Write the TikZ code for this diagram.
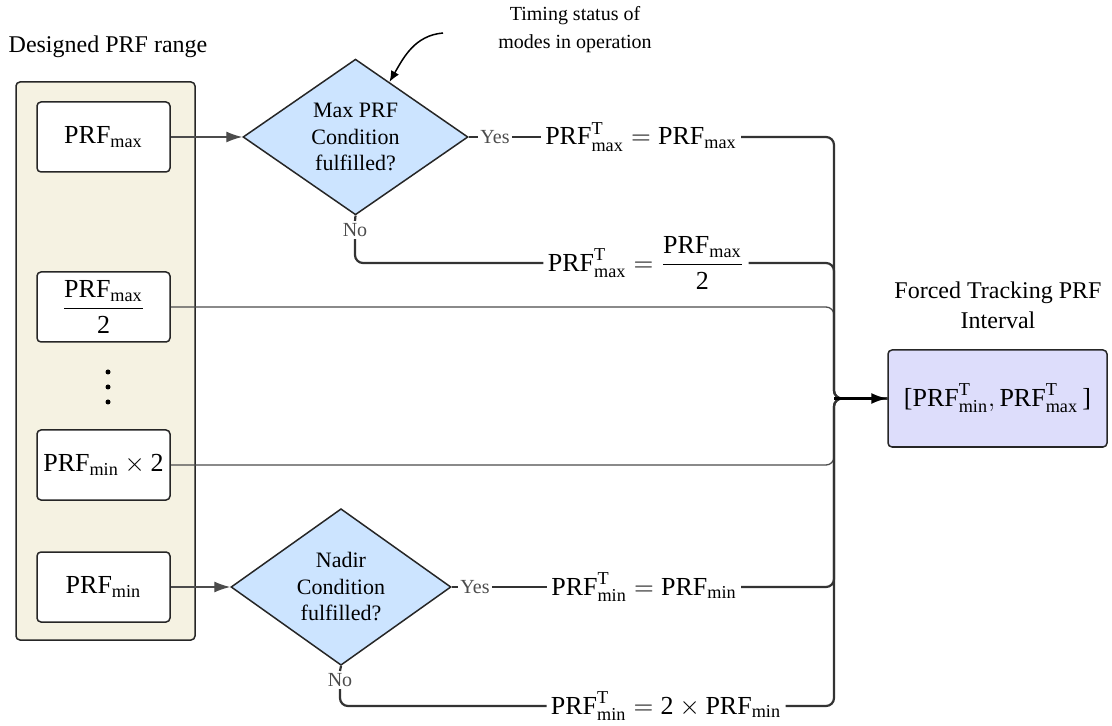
\RequirePackage{fix-cm}
\documentclass[tikz,border=0pt]{standalone}
\usepackage{amsmath}
\usepackage{fontspec}
\setmainfont{Liberation Serif}
\usepackage{tikz}
\usetikzlibrary{arrows.meta, positioning, calc, shapes.geometric}
\definecolor{panelbg}{HTML}{F5F2E2}
\definecolor{checkbg}{HTML}{CCE4FF}
\definecolor{resultbg}{HTML}{DDDDFB}
\definecolor{linedark}{HTML}{333333}
\newcommand{\PRF}{\text{PRF}}
\tikzset{
    prfpanel/.style={draw=black!85, fill=panelbg, line width=0.75pt, rounded corners=2pt, minimum width=89.5pt, minimum height=279pt},
    prfbox/.style={draw=black!85, fill=white, line width=0.75pt, rounded corners=2pt, minimum width=66.5pt, minimum height=35pt, inner sep=0pt, font=\fontsize{13}{15}\selectfont},
    prfcheck/.style={diamond, draw=black!85, fill=checkbg, line width=0.75pt, inner sep=0pt, align=center, font=\fontsize{11}{13.25}\selectfont},
    prfresult/.style={draw=black!85, fill=resultbg, line width=0.75pt, rounded corners=2pt, minimum width=109.5pt, minimum height=48.5pt, inner sep=0pt, font=\fontsize{13}{15}\selectfont},
    prfeq/.style={inner sep=2pt, font=\fontsize{13}{15}\selectfont},
    prftitle/.style={align=center, inner sep=0pt, font=\fontsize{12}{15}\selectfont},
    prfyesno/.style={inner sep=1pt, text=black!70, font=\fontsize{10}{12}\selectfont},
    prfline/.style={draw=linedark, line width=1.1pt, rounded corners=4pt},
    prfthin/.style={draw=black!70, line width=0.65pt, rounded corners=4pt},
    prftip/.style={-{Latex[length=8pt,width=5.5pt]}}
}

\begin{document}
\begin{tikzpicture}[x=0.5pt, y=-0.5pt]
    \useasboundingbox (0,0) rectangle (1112,726);

    % Designed range
    \node[prftitle] (rangetitle) at (108,47) {Designed PRF range};
    \node[prfpanel] (panel) at (105.5,361) {};
    \node[prfbox] (bmax) at (103.5,137) {$\PRF_{\text{max}}$};
    \node[prfbox] (bhalf) at (103.5,307) {$\dfrac{\PRF_{\text{max}}}{\text{2}}$};
    \node[prfbox] (bmintwo) at (103.5,465) {$\PRF_{\text{min}}\times\text{2}$};
    \node[prfbox] (bmin) at (103.5,587) {$\PRF_{\text{min}}$};
    \foreach \y in {372,387,402}
        \fill (108,\y) circle[radius=2.5];

    % Decisions
    \node[prfcheck, minimum width=112.5pt, minimum height=75pt] (d1) at (355.5,137) {Max PRF\\Condition\\fulfilled?};
    \node[prfcheck, minimum width=110pt, minimum height=70.5pt] (d2) at (341,587) {Nadir\\Condition\\fulfilled?};
    \node[prftitle, font=\fontsize{10}{14}\selectfont] (timing) at (575,30) {Timing status of\\modes in operation};
    \coordinate (tail) at (443,33);

    \node[prfyesno] (yes1) at (495,137) {Yes};
    \node[prfyesno] (no1) at (355,230) {No};
    \node[prfyesno] (yes2) at (475,587) {Yes};
    \node[prfyesno] (no2) at (340,680) {No};

    % Timing values
    \node[prfeq] (f1) at (641,137) {$\PRF^{\text{T}}_{\text{max}} = \PRF_{\text{max}}$};
    \node[prfeq] (f2) at (646,263) {$\PRF^{\text{T}}_{\text{max}} = \dfrac{\PRF_{\text{max}}}{\text{2}}$};
    \node[prfeq] (f3) at (644,587) {$\PRF^{\text{T}}_{\text{min}} = \PRF_{\text{min}}$};
    \node[prfeq] (f4) at (666,706) {$\PRF^{\text{T}}_{\text{min}} = \text{2}\times\PRF_{\text{min}}$};

    % Result
    \node[prftitle] (outtitle) at (998,305) {Forced Tracking PRF\\Interval};
    \node[prfresult] (out) at (997.5,398.5) {$\text{[}\PRF^{\text{T}}_{\text{min}}, \PRF^{\text{T}}_{\text{max}}\,\text{]}$};
    \coordinate (join) at (834,398.5);

    % Inputs to decisions
    \draw[prfthin, prftip] (bmax.east) -- (d1.west);
    \draw[prfthin, prftip] (bmin.east) -- (d2.west);
    \draw[line width=0.75pt, -{Latex[length=5.5pt,width=4.5pt]}] (tail) to[out=185, in=60] ($(d1.north)!0.3!(d1.east)$);

    % Direct ranges
    \draw[prfthin] (bhalf.east) -| (join) -- (out.west);
    \draw[prfthin] (bmintwo.east) -| (join) -- (out.west);

    % Yes / No branches
    \draw[prfline] (d1.east) -- (yes1.west);
    \draw[prfline] (yes1.east) -- (f1.west);
    \draw[prfline] (d1.south) -- (no1.north);
    \draw[prfline] (no1.south) |- (f2.west);
    \draw[prfline] (d2.east) -- (yes2.west);
    \draw[prfline] (yes2.east) -- (f3.west);
    \draw[prfline] (d2.south) -- (no2.north);
    \draw[prfline] (no2.south) |- (f4.west);

    % Merge
    \draw[prfline] (f1.east) -| (join) -- (out.west);
    \draw[prfline] (f2.east) -| (join) -- (out.west);
    \draw[prfline] (f3.east) -| (join) -- (out.west);
    \draw[prfline] (f4.east) -| (join) -- (out.west);
    \draw[prfline, draw=black, prftip] (join) -- (out.west);
\end{tikzpicture}
\end{document}
